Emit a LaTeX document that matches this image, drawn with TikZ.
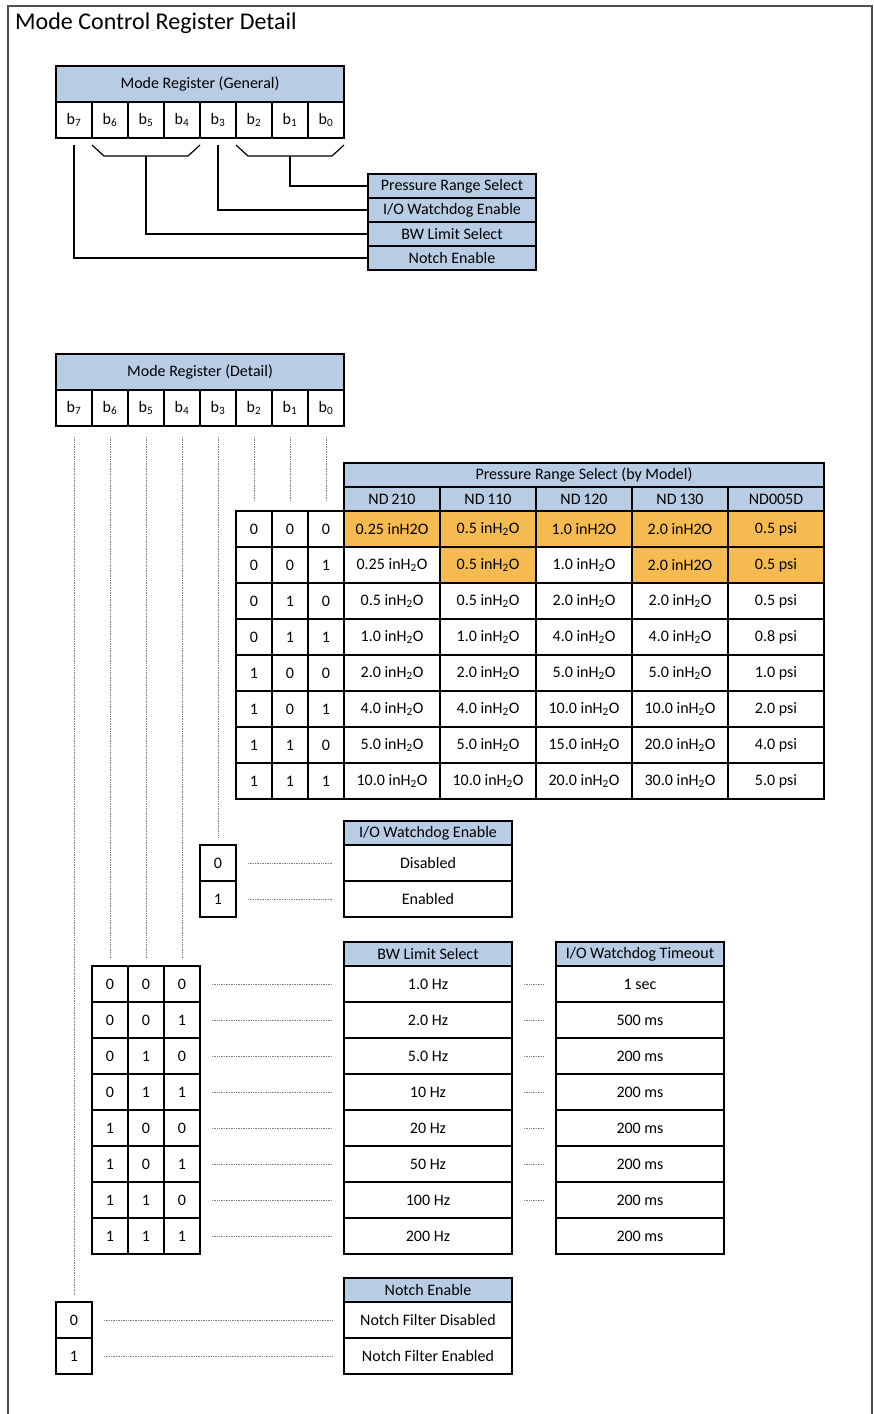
\documentclass[tikz,border=0pt]{standalone}
\usepackage{fontspec}
\setmainfont{Carlito}
\usepackage{xcolor}
\usetikzlibrary{positioning,calc}

\definecolor{hdrblue}{HTML}{B8CCE4}
\definecolor{hotcell}{HTML}{F6BB50}
\definecolor{framegray}{HTML}{505050}
\newcommand{\wc}[1]{#1 inH\textsubscript{2}O}

\begin{document}
\begin{tikzpicture}[x=1pt,y=-1pt,
    box/.style={draw, line width=1.2pt, inner sep=0pt, outer sep=0pt, anchor=north west,
        font=\fontsize{16}{18}\selectfont},
    bitcell/.style={box, minimum width=36pt, minimum height=36pt},
    valcell/.style={box, minimum width=96pt, minimum height=36pt},
    wide/.style={box, minimum width=168pt, minimum height=36pt},
    hdr/.style={fill=hdrblue, minimum height=24pt},
    link/.style={line width=1.2pt},
    dots/.style={gray, line width=0.7pt, densely dotted}]
    \useasboundingbox (0,0) rectangle (874,1414);
    % Marco y titulo
    \draw[framegray, line width=1.2pt] (8,1420) -- (8,6) -- (872,6) -- (872,1420);
    \node[anchor=base west, inner sep=0pt, font=\fontsize{24}{26}\selectfont] (title) at (15,29) {Mode Control Register Detail};

    % Registro general
    \node[box, hdr, minimum width=288pt, minimum height=36pt] (gen) at (56,66) {Mode Register (General)};
    \foreach \b [count=\i from 0] in {7,...,0}
        \node[bitcell] (g\b) at ({56+36*\i},102) {b\textsubscript{\b}};

    \node[box, hdr, minimum width=168pt] (lPR) at (368,174) {Pressure Range Select};
    \node[box, hdr, minimum width=168pt, below=0pt of lPR] (lWD) {I/O Watchdog Enable};
    \node[box, hdr, minimum width=168pt, below=0pt of lWD] (lBW) {BW Limit Select};
    \node[box, hdr, minimum width=168pt, below=0pt of lBW] (lNE) {Notch Enable};

    % Llaves de los campos
    \draw[link] ($(g6.south west)+(0,7)$) -- ++(12,11) -- ($(g4.south east)+(-12,18)$) -- ++(12,-11);
    \draw[link] ($(g2.south west)+(0,7)$) -- ++(12,11) -- ($(g0.south east)+(-12,18)$) -- ++(12,-11);
    \coordinate (brBW) at ($(g5.south)+(0,18)$);
    \coordinate (brPR) at ($(g1.south)+(0,18)$);
    \draw[link] (brPR) |- (lPR.west);
    \draw[link] ($(g3.south)+(0,7)$) |- (lWD.west);
    \draw[link] (brBW) |- (lBW.west);
    \draw[link] ($(g7.south)+(0,7)$) |- (lNE.west);

    % Registro detallado
    \node[box, hdr, minimum width=288pt, minimum height=36pt] (det) at (56,354) {Mode Register (Detail)};
    \foreach \b [count=\i from 0] in {7,...,0}
        \node[bitcell] (d\b) at ({56+36*\i},390) {b\textsubscript{\b}};

    % Rango de presion
    \node[box, hdr, minimum width=480pt] (prt) at (344,463) {Pressure Range Select (by Model)};
    \foreach \m [count=\i from 0] in {ND\,210, ND\,110, ND\,120, ND\,130, ND005D}
        \node[valcell, hdr] (pm\i) at ({344+96*\i},487) {\m};
    \fill[hotcell] (344,511) rectangle (824,547);
    \fill[hotcell] (440,547) rectangle (536,583);
    \fill[hotcell] (632,547) rectangle (824,583);
    \foreach \ba/\bb/\bc/\ma/\mb/\mc/\md/\me [count=\r from 0] in {
        0/0/0/{0.25 inH2O}/{\wc{0.5}}/{1.0 inH2O}/{2.0 inH2O}/{0.5 psi},
        0/0/1/{\wc{0.25}}/{\wc{0.5}}/{\wc{1.0}}/{2.0 inH2O}/{0.5 psi},
        0/1/0/{\wc{0.5}}/{\wc{0.5}}/{\wc{2.0}}/{\wc{2.0}}/{0.5 psi},
        0/1/1/{\wc{1.0}}/{\wc{1.0}}/{\wc{4.0}}/{\wc{4.0}}/{0.8 psi},
        1/0/0/{\wc{2.0}}/{\wc{2.0}}/{\wc{5.0}}/{\wc{5.0}}/{1.0 psi},
        1/0/1/{\wc{4.0}}/{\wc{4.0}}/{\wc{10.0}}/{\wc{10.0}}/{2.0 psi},
        1/1/0/{\wc{5.0}}/{\wc{5.0}}/{\wc{15.0}}/{\wc{20.0}}/{4.0 psi},
        1/1/1/{\wc{10.0}}/{\wc{10.0}}/{\wc{20.0}}/{\wc{30.0}}/{5.0 psi}} {
        \node[bitcell] (pb\r-1) at (236,{511+36*\r}) {\ba};
        \node[bitcell] (pb\r-2) at (272,{511+36*\r}) {\bb};
        \node[bitcell] (pb\r-3) at (308,{511+36*\r}) {\bc};
        \node[valcell] (pv\r-0) at (344,{511+36*\r}) {\ma};
        \node[valcell] (pv\r-1) at (440,{511+36*\r}) {\mb};
        \node[valcell] (pv\r-2) at (536,{511+36*\r}) {\mc};
        \node[valcell] (pv\r-3) at (632,{511+36*\r}) {\md};
        \node[valcell] (pv\r-4) at (728,{511+36*\r}) {\me};
    }

    % Watchdog
    \node[wide, hdr] (wdh) at (344,821) {I/O Watchdog Enable};
    \node[wide, below=0pt of wdh] (wd0) {Disabled};
    \node[wide, below=0pt of wd0] (wd1) {Enabled};
    \node[bitcell] (wb0) at (200,845) {0};
    \node[bitcell, below=0pt of wb0] (wb1) {1};
    \draw[dots, shorten <=12pt, shorten >=12pt] (wb0.east) -- (wd0.west);
    \draw[dots, shorten <=12pt, shorten >=12pt] (wb1.east) -- (wd1.west);

    % Ancho de banda y timeout
    \node[wide, hdr] (bwh) at (344,942) {BW Limit Select};
    \node[wide, hdr] (toh) at (556,942) {I/O Watchdog Timeout};
    \foreach \ba/\bb/\bc/\f/\t [count=\r from 0] in {
        0/0/0/1.0 Hz/1 sec, 0/0/1/2.0 Hz/500 ms, 0/1/0/5.0 Hz/200 ms, 0/1/1/10 Hz/200 ms,
        1/0/0/20 Hz/200 ms, 1/0/1/50 Hz/200 ms, 1/1/0/100 Hz/200 ms, 1/1/1/200 Hz/200 ms} {
        \node[bitcell] (bb\r-1) at (92,{966+36*\r}) {\ba};
        \node[bitcell] (bb\r-2) at (128,{966+36*\r}) {\bb};
        \node[bitcell] (bb\r-3) at (164,{966+36*\r}) {\bc};
        \node[wide] (bw\r) at (344,{966+36*\r}) {\f};
        \node[wide] (to\r) at (556,{966+36*\r}) {\t};
        \draw[dots, shorten <=12pt, shorten >=12pt] (bb\r-3.east) -- (bw\r.west);
        \ifnum\r<7
            \draw[dots, shorten <=12pt, shorten >=12pt] (bw\r.east) -- (to\r.west);
        \fi
    }

    % Notch
    \node[wide, hdr] (neh) at (344,1278) {Notch Enable};
    \node[wide, below=0pt of neh] (ne0) {Notch Filter Disabled};
    \node[wide, below=0pt of ne0] (ne1) {Notch Filter Enabled};
    \node[bitcell] (nb0) at (56,1302) {0};
    \node[bitcell, below=0pt of nb0] (nb1) {1};
    \draw[dots, shorten <=12pt, shorten >=12pt] (nb0.east) -- (ne0.west);
    \draw[dots, shorten <=12pt, shorten >=12pt] (nb1.east) -- (ne1.west);

    % Lineas de bits
    \draw[dots, shorten <=11pt, shorten >=7pt] (d7.south) -- (nb0.north);
    \foreach \b/\k in {6/1,5/2,4/3}
        \draw[dots, shorten <=11pt, shorten >=8pt] (d\b.south) -- (bb0-\k.north);
    \draw[dots, shorten <=11pt, shorten >=7pt] (d3.south) -- (wb0.north);
    \foreach \b/\k in {2/1,1/2,0/3}
        \draw[dots, shorten <=11pt, shorten >=11pt] (d\b.south) -- (pb0-\k.north);
\end{tikzpicture}
\end{document}
